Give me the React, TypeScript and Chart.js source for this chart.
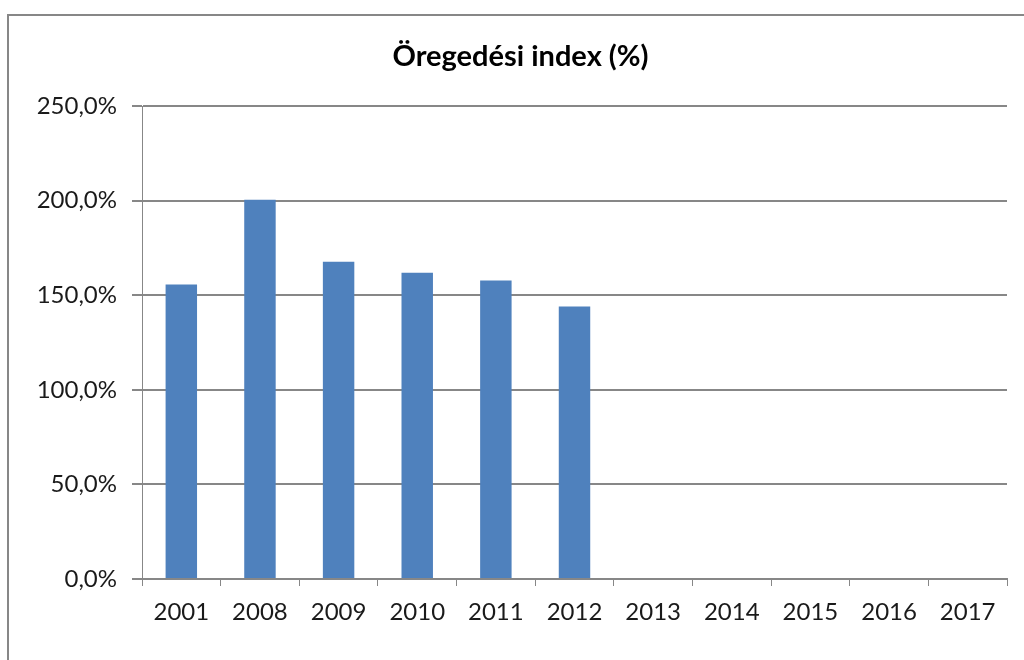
import React, { useEffect, useRef } from "react";
import { Chart, registerables } from "chart.js";

Chart.register(...registerables);

const categories = ["2001", "2008", "2009", "2010", "2011", "2012", "2013", "2014", "2015", "2016", "2017"];
const values: (number | null)[] = [155.6, 200.4, 167.7, 161.9, 157.8, 144.0, null, null, null, null, null];
const titleText = "Öregedési index (%)";
const yTicks = [0, 50, 100, 150, 200, 250];

const FONT = "Lato";
const GRAY = "#878787";

export default function App() {
  const ref = useRef<HTMLCanvasElement | null>(null);

  useEffect(() => {
    if (!ref.current) return;
    const chart = new Chart(ref.current, {
      type: "bar",
      data: {
        labels: categories,
        datasets: [
          {
            data: values,
            backgroundColor: "#4F81BD",
            borderWidth: 0,
            barPercentage: 0.4,
            categoryPercentage: 1,
          },
        ],
      },
      options: {
        animation: false,
        responsive: false,
        maintainAspectRatio: false,
        layout: { padding: { left: 34, right: 17, top: 0, bottom: 0 } },
        plugins: {
          legend: { display: false },
          tooltip: { enabled: false },
          title: {
            display: true,
            text: titleText,
            color: "#000",
            font: { family: FONT, size: 29, weight: "bold", lineHeight: 1.2 },
            padding: { top: 39.6, bottom: 31.6 },
          },
        },
        scales: {
          x: {
            offset: true,
            grid: {
              display: true,
              drawOnChartArea: false,
              drawTicks: true,
              tickLength: 7,
              offset: true,
              color: GRAY,
              lineWidth: 1,
            },
            border: { display: true, color: GRAY, width: 2 },
            ticks: {
              color: "#1a1a1a",
              font: { family: FONT, size: 24, lineHeight: 1.2 },
              padding: 12,
              maxRotation: 0,
              autoSkip: false,
            },
            afterFit: (scale: any) => {
              scale.height = 81;
            },
          },
          y: {
            min: 0,
            max: 250,
            afterBuildTicks: (scale: any) => {
              scale.ticks = yTicks.map((v) => ({ value: v }));
            },
            grid: {
              color: GRAY,
              lineWidth: 2,
              drawTicks: true,
              tickLength: 10,
            },
            border: { display: true, color: GRAY, width: 1 },
            ticks: {
              color: "#1a1a1a",
              font: { family: FONT, size: 24, lineHeight: 1.2 },
              padding: 15,
              callback: (v: any) => Number(v).toFixed(1).replace(".", ",") + "%",
            },
            afterFit: (scale: any) => {
              scale.width = 108;
            },
          },
        },
      },
    });
    return () => chart.destroy();
  }, []);

  return (
    <div style={{ position: "fixed", left: 0, top: 0, width: 1024, height: 660, overflow: "hidden", background: "#fff" }}>
      <div
        style={{
          position: "absolute",
          left: 7,
          top: 14,
          width: 1100,
          height: 800,
          border: `2px solid ${GRAY}`,
          boxSizing: "border-box",
        }}
      />
      <canvas ref={ref} width={1024} height={660} style={{ position: "absolute", left: 0, top: 0, width: 1024, height: 660 }} />
    </div>
  );
}
